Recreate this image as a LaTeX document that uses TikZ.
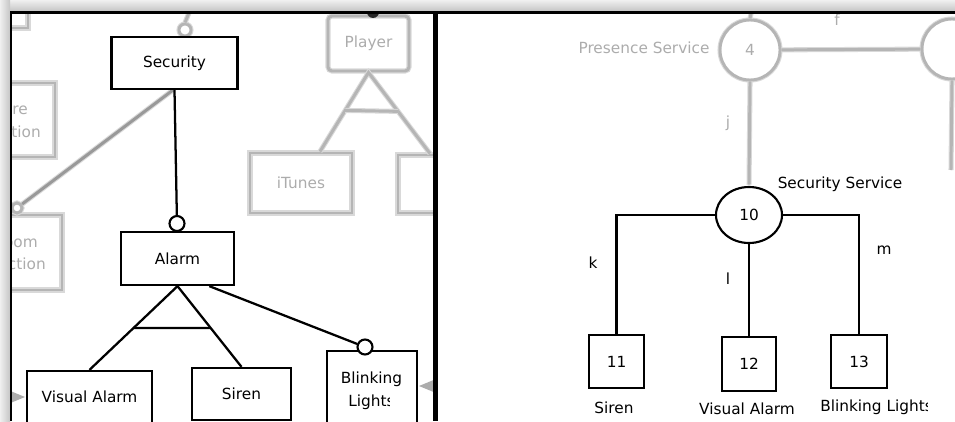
\documentclass[tikz,border=0pt]{standalone}
\usepackage{fontspec}
\setmainfont{DejaVu Sans}
\usetikzlibrary{shapes.geometric,calc}

\begin{document}
\begin{tikzpicture}[x=0.75pt,y=-0.75pt,
  font=\fontsize{11.5}{17.25}\selectfont,
  sz/.style 2 args={minimum width=#1*0.75pt, minimum height=#2*0.75pt, inner sep=0pt},
  box/.style={draw=black, line width=1.7pt, fill=white, rectangle},
  opt/.style={draw=black, line width=1.6pt, fill=white, circle, minimum size=15*0.75pt, inner sep=0pt},
  link/.style={draw=black, line width=1.7pt},
  ghost/.style={draw=gray!58, line width=2.2pt, preaction={draw=gray!30, line width=3.8pt}},
  ghosttext/.style={text=gray!65},
  lbl/.style={inner sep=0pt},
]
\useasboundingbox (0,0) rectangle (955,421);

% window shadow along the top and left edges
\shade[top color=gray!12, bottom color=gray!45] (0,0) rectangle (955,11);
\shade[left color=gray!12, right color=gray!45] (0,0) rectangle (10,421);

% ---------------- left panel: feature model ----------------
\begin{scope}
\clip (11,13) rectangle (434,421);

% faded neighbouring parts of the model
\node[ghost, sz={40}{30}] (gtl) at (8,13) {};
\node[ghost, sz={70}{74}] (gre) at (20,120) {};
\node[ghosttext, anchor=east, lbl] (gre1) at (28,110) {re};
\node[ghosttext, anchor=east, lbl] (gre2) at (41,132) {ition};
\node[ghost, sz={80}{75}] (groom) at (22,252.5) {};
\node[ghosttext, anchor=east, lbl] (groom1) at (38,243) {oom};
\node[ghosttext, anchor=east, lbl] (groom2) at (46,264) {ction};
\node[ghost, circle, fill=white, minimum size=10*0.75pt, inner sep=0pt] (gopt) at (17,208) {};
\coordinate (secfoot) at (173,90);
\draw[ghost, draw=gray!80] (secfoot) -- (gopt);

\node[ghost, circle, fill=white, minimum size=12*0.75pt, inner sep=0pt] (gtop) at (185,30) {};
\coordinate (gtopup) at (191,8);
\draw[ghost] (gtop.north) -- (gtopup);

\node[ghost, rounded corners=3pt, sz={81}{55}, ghosttext] (player) at (368.5,43.5) {Player};
\fill[black!85] (373,12) circle (6);
\node[ghost, sz={102}{60}, ghosttext] (itunes) at (301,183) {iTunes};
\node[ghost, sz={64}{58}] (gright) at (430,184) {};
\coordinate (itleg) at ($(itunes.north)+(19,0)$);
\draw[ghost] (itleg) -- (player.south) -- (gright.north);
\draw[ghost] ($(player.south)!0.48!(itleg)$) -- ($(player.south)!0.48!(gright.north)$);

\fill[gray!65] (8,390) -- (25,397) -- (8,404) -- cycle;
\fill[gray!65] (436,379) -- (419,386) -- (436,393) -- cycle;

% sharp part of the model
\node[box, sz={126}{52}] (sec) at (174.5,63) {Security};
\node[box, sz={113}{53}] (alarm) at (177.5,258.5) {Alarm};
\node[opt] (o1) at (177,223.5) {};
\draw[link] (sec.south) -- (o1);

\node[box, sz={125}{52}] (va) at (89.5,397) {Visual Alarm};
\node[box, sz={99}{52}] (siren) at (241.5,394) {Siren};
\draw[link] (va.north) -- (alarm.south) -- (siren.north);
\draw[link] ($(alarm.south)!0.5!(va.north)$) -- ($(alarm.south)!0.518!(siren.north)$);

\node[box, sz={90}{80}] (bl) at (372,391) {};
\node[lbl] (bltext1) at (371.5,379) {Blinking};
\begin{scope}
  \clip (bl.west |- 390,390) rectangle (389,421);
  \node[lbl] (bltext2) at (371.5,402) {Lights};
\end{scope}
\node[opt] (o2) at (365,347) {};
\draw[link] (alarm.-41) -- (o2);
\end{scope}

% ---------------- right panel: service graph ----------------
\begin{scope}
\clip (437,13) rectangle (955,421);

% faded upper part of the graph
\node[ghost, circle, fill=white, minimum size=60*0.75pt, inner sep=0pt, ghosttext] (c4) at (750,50) {4};
\node[ghost, circle, fill=white, minimum size=60*0.75pt, inner sep=0pt] (c3) at (952,49) {};
\draw[ghost] (c4) -- (c3);
\coordinate (c3down) at (951,170);
\draw[ghost] (c3.south) -- (c3down);
\coordinate (c4up) at (753,4);
\draw[ghost] (c4.north) -- (c4up);
\node[ghosttext, lbl] (pres) at (644,48) {Presence Service};
\node[ghosttext, lbl] (lf) at (837,20) {f};
\node[ghosttext, lbl] (lj) at (728,123) {j};

% sharp part of the graph
\node[ellipse, draw=black, line width=1.6pt, fill=white, minimum width=66*0.75pt, minimum height=56*0.75pt, inner sep=0pt] (c10) at (749,215) {10};
\draw[ghost, shorten >=1pt] (c4.south) -- (c10.north);
\node[lbl] (secsvc) at (840,184) {Security Service};

\node[box, sz={55}{53}] (b11) at (616.5,361.5) {11};
\node[box, sz={54}{54}] (b12) at (749,364) {12};
\node[box, sz={56}{53}] (b13) at (859,361.5) {13};

\draw[link] (c10.west) -| (b11.north);
\draw[link] (c10.south) -- (b12.north);
\draw[link] (c10.east) -| (b13.north);

\node[lbl] (lk) at (593,263) {k};
\node[lbl] (ll) at (728,279) {l};
\node[lbl] (lm) at (884,250) {m};

\node[lbl] (t11) at (614,408) {Siren};
\node[lbl] (t12) at (747,409) {Visual Alarm};
\begin{scope}
  \clip (800,395) rectangle (927,421);
  \node[lbl, anchor=west] (t13) at (820,407) {Blinking Lights};
\end{scope}
\end{scope}

% panel frame
\draw[line width=1.6pt] (11,421) -- (11,12.5) -- (955,12.5);
\draw[line width=3.2pt] (435.5,12) -- (435.5,421);
\end{tikzpicture}
\end{document}
